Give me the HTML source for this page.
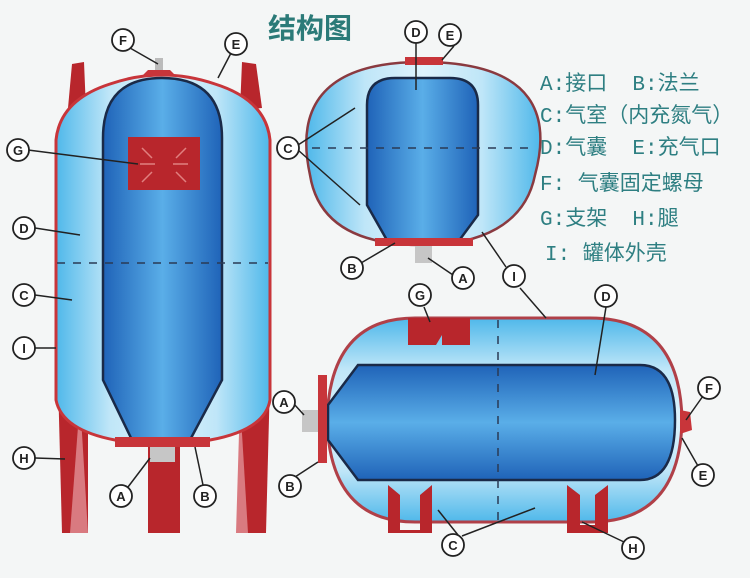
<!DOCTYPE html>
<html><head><meta charset="utf-8"><style>
html,body{margin:0;padding:0;background:#f4f6f6;}
svg{display:block}
text{font-family:"Liberation Sans","Noto Sans CJK SC",sans-serif}
.lg{font-family:"Liberation Mono","Noto Sans CJK SC",monospace;white-space:pre}
</style></head><body>
<svg width="750" height="578" viewBox="0 0 750 578" xmlns="http://www.w3.org/2000/svg">
<defs>
<linearGradient id="shellH" x1="0" x2="1" y1="0" y2="0">
<stop offset="0" stop-color="#4fb8ea"/><stop offset="0.25" stop-color="#bfe6f8"/><stop offset="0.5" stop-color="#dff3fc"/><stop offset="0.75" stop-color="#bfe6f8"/><stop offset="1" stop-color="#4fb8ea"/></linearGradient>
<linearGradient id="shellV" x1="0" x2="0" y1="0" y2="1">
<stop offset="0" stop-color="#4fb8ea"/><stop offset="0.25" stop-color="#bfe6f8"/><stop offset="0.5" stop-color="#dff3fc"/><stop offset="0.75" stop-color="#bfe6f8"/><stop offset="1" stop-color="#4fb8ea"/></linearGradient>
<linearGradient id="bladH" x1="0" x2="1" y1="0" y2="0">
<stop offset="0" stop-color="#1f63b8"/><stop offset="0.5" stop-color="#5aaee8"/><stop offset="1" stop-color="#1f63b8"/></linearGradient>
<linearGradient id="bladV" x1="0" x2="0" y1="0" y2="1">
<stop offset="0" stop-color="#1f63b8"/><stop offset="0.5" stop-color="#5aaee8"/><stop offset="1" stop-color="#1f63b8"/></linearGradient>
</defs>

<!-- LEFT TANK -->
<polygon points="68,108 72,64 84,62 86,110" fill="#b8262c"/>
<polygon points="240,110 242,62 256,64 262,108" fill="#b8262c"/>
<polygon points="58,380 88,380 88,533 62,533" fill="#b8262c"/>
<polygon points="80,400 88,533 70,533" fill="#d97a80"/>
<polygon points="240,380 270,380 266,533 244,533" fill="#b8262c"/>
<polygon points="240,400 248,533 236,533" fill="#d97a80"/>
<rect x="148" y="445" width="32" height="88" fill="#b8262c"/>
<path d="M56,400 L56,140 Q60,100 110,84 Q162,66 215,84 Q266,100 270,140 L270,400 Q265,430 210,440 L115,440 Q62,430 56,400 Z" fill="url(#shellH)" stroke="#c8353a" stroke-width="3"/>
<path d="M103,138 Q103,78 162,78 Q222,78 222,138 L222,380 L190,440 L132,440 L103,380 Z" fill="url(#bladH)" stroke="#1a2a48" stroke-width="2.5"/>
<rect x="128" y="137" width="72" height="53" fill="#b8262c"/>
<g stroke="#e08080" stroke-width="1.5"><line x1="142" y1="148" x2="152" y2="158"/><line x1="186" y1="148" x2="176" y2="158"/><line x1="142" y1="182" x2="152" y2="172"/><line x1="186" y1="182" x2="176" y2="172"/><line x1="140" y1="164" x2="155" y2="164"/><line x1="173" y1="164" x2="188" y2="164"/></g>
<path d="M148,70 L170,70 L176,76 L142,76 Z" fill="#c8353a"/>
<rect x="155" y="58" width="8" height="12" fill="#bbb"/>
<rect x="115" y="437" width="95" height="10" fill="#c8353a"/>
<rect x="150" y="447" width="25" height="15" fill="#c6c6c6"/>
<line x1="57" y1="263" x2="268" y2="263" stroke="#2a3a55" stroke-width="1.5" stroke-dasharray="8,8"/>

<!-- TOP RIGHT TANK -->
<path d="M422,62 C540,62 550,120 535,175 C525,225 480,245 422,245 C360,245 318,225 310,175 C298,120 310,62 422,62 Z" fill="url(#shellH)" stroke="#8a3a40" stroke-width="2.5"/>
<path d="M367,105 Q367,78 395,78 L450,78 Q478,78 478,105 L478,215 L458,242 L388,242 L367,205 Z" fill="url(#bladH)" stroke="#1a2a48" stroke-width="2.5"/>
<rect x="405" y="57" width="38" height="8" fill="#c8353a"/>
<rect x="375" y="238" width="98" height="8" fill="#c8353a"/>
<rect x="415" y="246" width="17" height="17" fill="#c6c6c6"/>
<line x1="312" y1="148" x2="535" y2="148" stroke="#2a3a55" stroke-width="1.5" stroke-dasharray="8,8"/>

<!-- BOTTOM TANK -->
<path d="M415,318 L590,318 Q680,318 682,420 Q680,522 590,522 L415,522 Q330,522 327,420 Q330,318 415,318 Z" fill="url(#shellV)" stroke="#b04048" stroke-width="3"/>
<path d="M358,365 L640,365 Q675,365 675,420 Q675,480 640,480 L358,480 L328,440 L328,405 Z" fill="url(#bladV)" stroke="#1a2a48" stroke-width="2.5"/>
<rect x="408" y="318" width="28" height="27" fill="#b8262c"/><rect x="442" y="318" width="28" height="27" fill="#b8262c"/><polygon points="436,318 442,318 442,335 436,345" fill="#b8262c"/>
<polygon points="388,485 400,495 400,530 420,530 420,495 432,485 432,533 388,533" fill="#b8262c"/>
<polygon points="567,485 580,495 580,525 595,525 595,495 608,485 608,533 567,533" fill="#b8262c"/>
<rect x="318" y="375" width="9" height="88" fill="#c8353a"/>
<rect x="302" y="410" width="16" height="22" fill="#c6c6c6"/>
<path d="M680,410 L690,412 L692,430 L680,434 Z" fill="#c8353a"/>
<line x1="498" y1="320" x2="498" y2="522" stroke="#2a3a55" stroke-width="1.5" stroke-dasharray="8,8"/>

<!-- leader lines -->
<g stroke="#222" stroke-width="1.5" fill="none">
<line x1="130" y1="48" x2="158" y2="64"/><line x1="231" y1="53" x2="218" y2="78"/>
<line x1="28" y1="150" x2="138" y2="164"/><line x1="35" y1="228" x2="80" y2="235"/>
<line x1="35" y1="295" x2="72" y2="300"/><line x1="35" y1="348" x2="56" y2="348"/>
<line x1="35" y1="458" x2="65" y2="459"/><line x1="128" y1="487" x2="150" y2="458"/><line x1="203" y1="485" x2="195" y2="447"/>
<line x1="416" y1="43" x2="416" y2="90"/><line x1="454" y1="46" x2="442" y2="60"/>
<line x1="298" y1="145" x2="355" y2="108"/><line x1="298" y1="150" x2="360" y2="205"/>
<line x1="361" y1="263" x2="395" y2="243"/><line x1="453" y1="275" x2="428" y2="258"/>
<line x1="520" y1="288" x2="546" y2="318"/><line x1="506" y1="267" x2="482" y2="232"/>
<line x1="424" y1="307" x2="430" y2="322"/><line x1="606" y1="307" x2="595" y2="375"/>
<line x1="294" y1="404" x2="304" y2="415"/><line x1="295" y1="477" x2="318" y2="462"/>
<line x1="703" y1="396" x2="686" y2="420"/><line x1="698" y1="466" x2="682" y2="438"/>
<line x1="458" y1="535" x2="438" y2="510"/><line x1="462" y1="536" x2="535" y2="508"/>
<line x1="624" y1="542" x2="582" y2="522"/>
</g>
<g fill="#fff" stroke="#222" stroke-width="1.8">
<circle cx="123" cy="40" r="11"/><circle cx="236" cy="44" r="11"/><circle cx="18" cy="150" r="11"/>
<circle cx="24" cy="228" r="11"/><circle cx="24" cy="295" r="11"/><circle cx="24" cy="348" r="11"/>
<circle cx="24" cy="458" r="11"/><circle cx="121" cy="496" r="11"/><circle cx="205" cy="496" r="11"/>
<circle cx="416" cy="32" r="11"/><circle cx="450" cy="35" r="11"/><circle cx="288" cy="148" r="11"/>
<circle cx="352" cy="268" r="11"/><circle cx="463" cy="278" r="11"/><circle cx="514" cy="276" r="11"/>
<circle cx="420" cy="295" r="11"/><circle cx="606" cy="296" r="11"/><circle cx="284" cy="402" r="11"/>
<circle cx="290" cy="486" r="11"/><circle cx="709" cy="388" r="11"/><circle cx="703" cy="475" r="11"/>
<circle cx="453" cy="545" r="11"/><circle cx="633" cy="548" r="11"/>
</g>
<g font-size="13" font-weight="bold" fill="#222" text-anchor="middle">
<text x="123" y="45">F</text><text x="236" y="49">E</text><text x="18" y="155">G</text>
<text x="24" y="233">D</text><text x="24" y="300">C</text><text x="24" y="353">I</text>
<text x="24" y="463">H</text><text x="121" y="501">A</text><text x="205" y="501">B</text>
<text x="416" y="37">D</text><text x="450" y="40">E</text><text x="288" y="153">C</text>
<text x="352" y="273">B</text><text x="463" y="283">A</text><text x="514" y="281">I</text>
<text x="420" y="300">G</text><text x="606" y="301">D</text><text x="284" y="407">A</text>
<text x="290" y="491">B</text><text x="709" y="393">F</text><text x="703" y="480">E</text>
<text x="453" y="550">C</text><text x="633" y="553">H</text>
</g>

<text x="268" y="38" font-size="28" font-weight="bold" fill="#2b7a78">结构图</text>
<g font-size="21" fill="#2e7f82" class="lg">
<text class="lg" x="540" y="90">A:接口  B:法兰</text>
<text class="lg" x="540" y="122">C:气室（内充氮气）</text>
<text class="lg" x="540" y="154">D:气囊  E:充气口</text>
<text class="lg" x="540" y="190">F: 气囊固定螺母</text>
<text class="lg" x="540" y="225">G:支架  H:腿</text>
<text class="lg" x="545" y="260">I: 罐体外壳</text>
</g>
</svg>
</body></html>
